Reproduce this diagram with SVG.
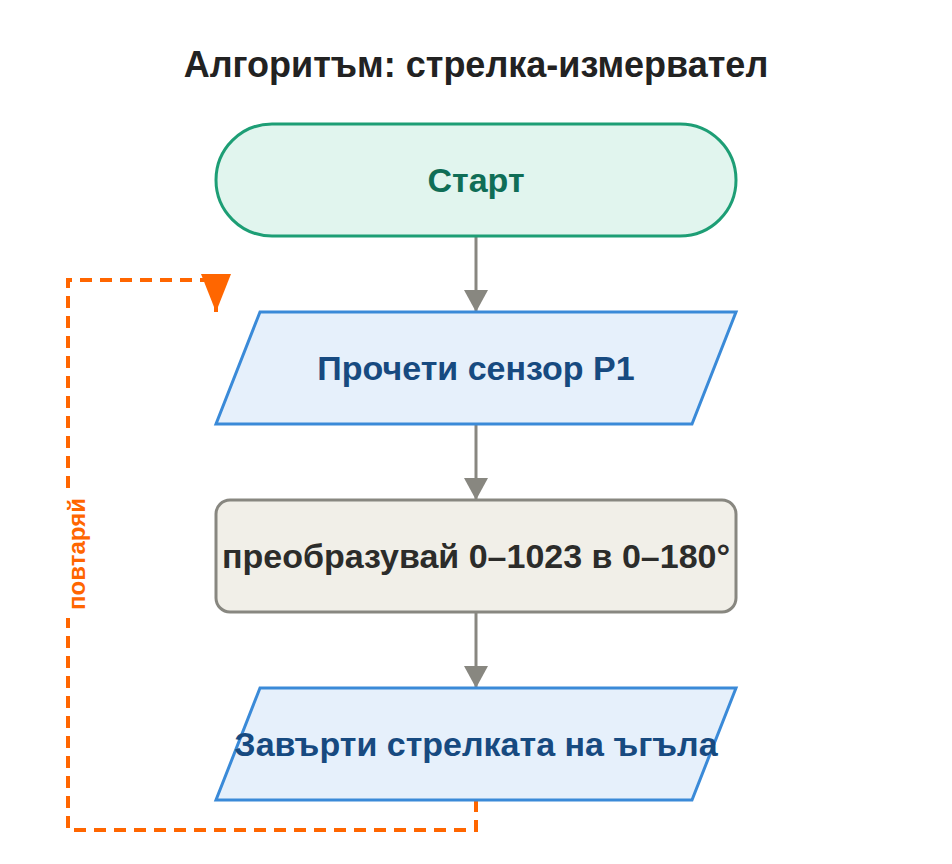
<svg xmlns="http://www.w3.org/2000/svg" width="952" height="864" viewBox="0 0 952 864">
<style>
text{font-family:"Liberation Sans",Arial,sans-serif;font-weight:bold;text-anchor:middle;dominant-baseline:central}
.io{fill:#e6f0fb;stroke:#3a8ad8;stroke-width:3}
.io-t{fill:#174a80;font-size:34px}
.arr{stroke:#888780;stroke-width:3;fill:none}
</style>
<defs>
<marker id="ag" viewBox="0 0 10 10" refX="10" refY="5" markerWidth="22" markerHeight="24" orient="auto" markerUnits="userSpaceOnUse" preserveAspectRatio="none"><path d="M0,0 L10,5 L0,10z" fill="#888780"/></marker>
<marker id="ao" viewBox="0 0 10 10" refX="10" refY="5" markerWidth="38" markerHeight="30" orient="auto" markerUnits="userSpaceOnUse" preserveAspectRatio="none"><path d="M0,0 L10,5 L0,10z" fill="#ff6600"/></marker>
</defs>
<rect width="952" height="864" fill="#fff"/>
<text x="476" y="64" font-size="36" fill="#222">Алгоритъм: стрелка-измервател</text>
<g id="connectors">
<line class="arr" x1="476" y1="236" x2="476" y2="312" marker-end="url(#ag)"/>
<line class="arr" x1="476" y1="424" x2="476" y2="500" marker-end="url(#ag)"/>
<line class="arr" x1="476" y1="612" x2="476" y2="688" marker-end="url(#ag)"/>
<path d="M476,800 V830 H68 V280 H216 V312" fill="none" stroke="#ff6600" stroke-width="4" stroke-dasharray="12,8" marker-end="url(#ao)"/>
<rect x="58" y="490" width="34" height="128" fill="#fff"/>
<text x="76" y="554" font-size="24" fill="#ff6600" transform="rotate(-90 76 554)">повтаряй</text>
</g>
<g id="start">
<rect x="216" y="124" width="520" height="112" rx="56" fill="#e1f5ee" stroke="#1d9e75" stroke-width="3"/>
<text x="476" y="180" font-size="34" fill="#0f6e56">Старт</text>
</g>
<g id="read">
<polygon class="io" points="260,312 736,312 692,424 216,424"/>
<text class="io-t" x="476" y="368">Прочети сензор P1</text>
</g>
<g id="map">
<rect x="216" y="500" width="520" height="112" rx="14" fill="#f1efe8" stroke="#888780" stroke-width="3"/>
<text x="476" y="556" font-size="34" fill="#2c2c2a">преобразувай 0–1023 в 0–180°</text>
</g>
<g id="rotate">
<polygon class="io" points="260,688 736,688 692,800 216,800"/>
<text class="io-t" x="476" y="744">Завърти стрелката на ъгъла</text>
</g>
</svg>
